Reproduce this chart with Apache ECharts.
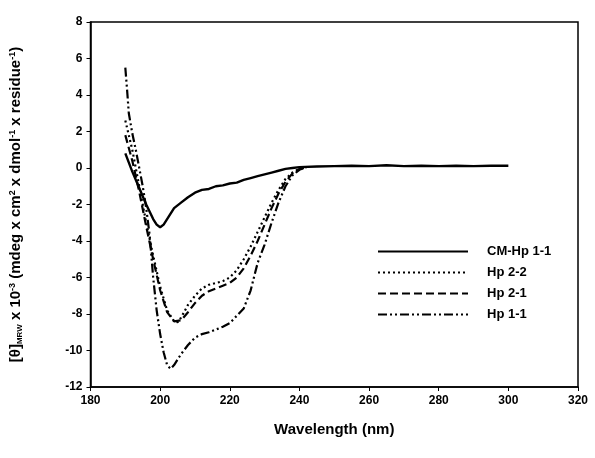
<!DOCTYPE html>
<html>
<head>
<meta charset="utf-8">
<script src="https://cdn.jsdelivr.net/npm/echarts@6/dist/echarts.min.js"></script>
<style>
  html, body { margin: 0; padding: 0; background: #fff; }
  #main { width: 595px; height: 458px; }
</style>
</head>
<body>
<div id="main"></div>
<script>
// wavelength (nm) / mean residue ellipticity (x 10^-3)
var cmHp11Wl = [190, 192, 194, 196, 198, 199, 200, 201, 202, 204, 206, 208, 210, 212, 214, 216, 218, 220, 222, 224, 226, 228, 230, 232, 234, 236, 238, 240, 245, 250, 255, 260, 265, 270, 275, 280, 285, 290, 295, 300]
var cmHp11Val = [0.8, -0.2, -1.1, -2.0, -2.8, -3.1, -3.25, -3.1, -2.8, -2.2, -1.9, -1.6, -1.35, -1.2, -1.15, -1.0, -0.95, -0.85, -0.8, -0.65, -0.55, -0.45, -0.35, -0.25, -0.15, -0.05, 0.0, 0.05, 0.08, 0.1, 0.12, 0.1, 0.15, 0.1, 0.12, 0.1, 0.12, 0.1, 0.12, 0.12]

var hp22Wl = [190, 192, 194, 196, 198, 200, 202, 204, 205, 206, 208, 210, 212, 214, 216, 218, 220, 222, 224, 226, 228, 230, 232, 234, 236, 238, 240, 242]
var hp22Val = [2.6, 1.0, -1.0, -3.0, -4.8, -6.5, -7.8, -8.4, -8.45, -8.2, -7.5, -7.0, -6.6, -6.4, -6.3, -6.2, -6.0, -5.6, -5.0, -4.3, -3.5, -2.7, -1.9, -1.2, -0.6, -0.25, -0.05, 0.05]

var hp21Wl = [190, 192, 194, 196, 198, 200, 202, 204, 206, 208, 210, 212, 214, 216, 218, 220, 222, 224, 226, 228, 230, 232, 234, 236, 238, 240, 242]
var hp21Val = [1.8, 0.4, -1.3, -3.2, -5.0, -6.7, -7.9, -8.4, -8.35, -7.9, -7.4, -7.0, -6.75, -6.6, -6.45, -6.3, -6.0, -5.5, -4.8, -4.0, -3.1, -2.2, -1.4, -0.75, -0.3, -0.05, 0.05]

var hp11Wl = [190, 190.5, 191, 192, 193, 194, 195, 196, 197, 198, 199, 200, 201, 202, 203, 204, 206, 208, 210, 212, 214, 216, 218, 220, 222, 224, 226, 228, 230, 232, 234, 236, 238, 240, 242]
var hp11Val = [5.5, 4.3, 3.0, 1.9, 1.0, 0.0, -1.0, -2.2, -3.7, -6.0, -7.8, -9.1, -10.1, -10.8, -11.0, -10.8, -10.2, -9.7, -9.3, -9.1, -9.0, -8.85, -8.7, -8.5, -8.1, -7.7, -6.7, -5.2, -4.2, -3.0, -1.9, -1.0, -0.4, -0.1, 0.05]

var seriesNames = ['CM-Hp 1-1', 'Hp 2-2', 'Hp 2-1', 'Hp 1-1']
var xTicks = { min: 180, max: 320, interval: 20 }
var yTicks = { min: -12, max: 8, interval: 2 }

function pairs(xs, ys) {
  return xs.map(function (x, i) { return [x, ys[i]] })
}

var chart = echarts.init(document.getElementById('main'))
var font = 'Liberation Sans, Arial, sans-serif'

var axisCommon = {
  axisLine: { onZero: false, lineStyle: { color: '#000', width: 1.5 } },
  axisTick: { show: true, length: 4, lineStyle: { color: '#000', width: 1 } },
  axisLabel: { color: '#000', fontFamily: font, fontWeight: 'bold', fontSize: 12 },
  splitLine: { show: false }
}

var option = {
  animation: false,
  backgroundColor: '#fff',
  grid: {
    left: 87, right: 17, top: 22, bottom: 71,
    show: true, borderColor: '#000', borderWidth: 1.5
  },
  legend: {
    data: seriesNames,
    orient: 'vertical',
    left: 372,
    top: 240,
    itemWidth: 90,
    itemHeight: 14,
    itemGap: 8,
    itemStyle: { opacity: 0 },
    textStyle: { color: '#000', fontFamily: font, fontWeight: 'bold', fontSize: 13, padding: [0, 0, 0, 14] }
  },
  xAxis: Object.assign({
    type: 'value',
    min: xTicks.min, max: xTicks.max, interval: xTicks.interval,
    name: 'Wavelength (nm)',
    nameLocation: 'middle',
    nameGap: 35,
    nameTextStyle: { color: '#000', fontFamily: font, fontWeight: 'bold', fontSize: 15 }
  }, axisCommon),
  yAxis: Object.assign({
    type: 'value',
    min: yTicks.min, max: yTicks.max, interval: yTicks.interval,
    name: '{a|[θ]}{s|MRW}{a| x 10}{p|-3}{a| (mdeg x cm}{p|2}{a| x dmol}{p|-1}{a| x residue}{p|-1}{a|)}',
    nameLocation: 'middle',
    nameGap: 62,
    nameTextStyle: {
      rich: {
        a: { color: '#000', fontFamily: font, fontWeight: 'bold', fontSize: 15, height: 18, verticalAlign: 'middle' },
        s: { color: '#000', fontFamily: font, fontWeight: 'bold', fontSize: 8, height: 18, verticalAlign: 'bottom', padding: [7, 0, 0, 0] },
        p: { color: '#000', fontFamily: font, fontWeight: 'bold', fontSize: 9, height: 18, verticalAlign: 'top', padding: [0, 0, 7, 0] }
      }
    }
  }, axisCommon),
  series: [
    {
      name: seriesNames[0], type: 'line', symbol: 'none',
      lineStyle: { color: '#000', width: 2.4, type: 'solid' },
      itemStyle: { color: '#000' },
      data: pairs(cmHp11Wl, cmHp11Val)
    },
    {
      name: seriesNames[1], type: 'line', symbol: 'none',
      lineStyle: { color: '#000', width: 2.2, type: [2, 3] },
      itemStyle: { color: '#000' },
      data: pairs(hp22Wl, hp22Val)
    },
    {
      name: seriesNames[2], type: 'line', symbol: 'none',
      lineStyle: { color: '#000', width: 2.2, type: [8, 4] },
      itemStyle: { color: '#000' },
      data: pairs(hp21Wl, hp21Val)
    },
    {
      name: seriesNames[3], type: 'line', symbol: 'none',
      lineStyle: { color: '#000', width: 2.2, type: [9, 3, 2, 3, 2, 3] },
      itemStyle: { color: '#000' },
      data: pairs(hp11Wl, hp11Val)
    }
  ]
}

chart.setOption(option)
</script>
</body>
</html>
